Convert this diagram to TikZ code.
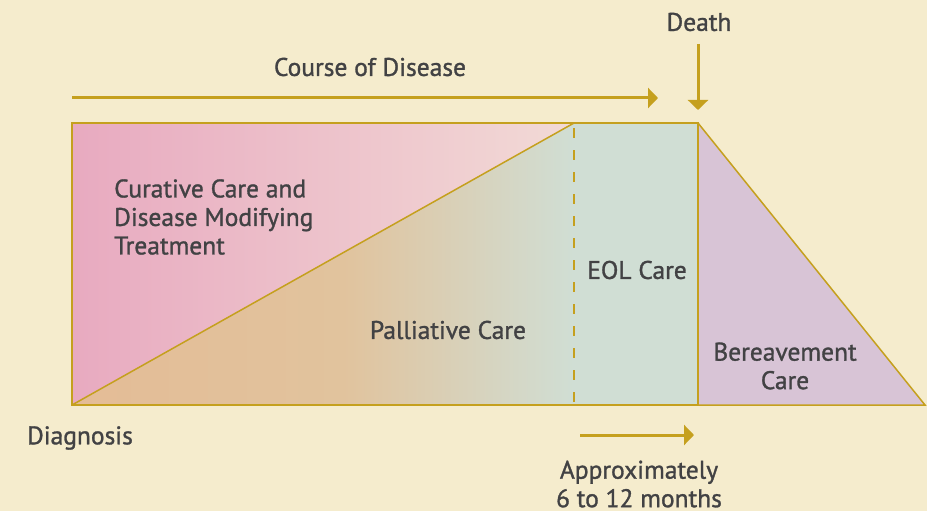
\documentclass[tikz,border=0pt]{standalone}
\usepackage{fontspec}
\setmainfont[FakeBold=1.5,UprightFeatures={FakeBold=1.2}]{PT Sans}
\usetikzlibrary{arrows.meta}
\definecolor{paper}{RGB}{245,236,205}
\definecolor{gold}{RGB}{197,160,30}
\definecolor{ink}{RGB}{66,66,68}
\definecolor{curleft}{RGB}{232,170,192}
\definecolor{curright}{RGB}{242,218,214}
\definecolor{palleft}{RGB}{228,188,150}
\definecolor{palmid}{RGB}{225,195,157}
\definecolor{eol}{RGB}{208,222,212}
\definecolor{bereave}{RGB}{216,196,214}
\pgfdeclarehorizontalshading{palliative}{100bp}{color(0bp)=(palleft);
  color(25bp)=(palleft); color(52bp)=(palmid); color(75bp)=(eol);
  color(100bp)=(eol)}

\begin{document}
\begin{tikzpicture}[x=1pt,y=-1pt,
  every node/.style = {text=ink, inner sep=0pt,
    font=\fontsize{25.5}{28.5}\selectfont},
  timeline/.style = {draw=gold, line width=3pt,
    -{Triangle[length=10pt,width=20pt]}},
  outline/.style = {draw=gold, line width=1.5pt}]
  \fill[paper] (0,0) rectangle (927,511);
  % phases of care
  \shade[left color=curleft, right color=curright] (72,123) -- (574,123) -- (72,405) -- cycle;
  \shade[shading=palliative] (72,405) -- (574,123) -- (574,405) -- cycle;
  \fill[eol] (574,123) rectangle (698,405);
  \fill[bereave] (698,123) -- (925,405) -- (698,405) -- cycle;
  \draw[outline] (72,123) rectangle (698,405);
  \draw[outline] (72,405) -- (574,123);
  \draw[outline, dash pattern=on 10pt off 12pt] (574,128) -- (574,405);
  \draw[outline] (698,123) -- (925,405) -- (698,405);
  % labels
  \node (course) at (370,67) {Course of Disease};
  \node (death) at (699,22) {Death};
  \node (diagnosis) at (80,438) {Diagnosis};
  \node[anchor=west, align=left] (curative) at (114,217)
    {Curative Care and\\Disease Modifying\\Treatment};
  \node (palliative) at (448,330) {Palliative Care};
  \node (eolcare) at (637,270) {EOL Care};
  \node[align=center] (bereavement) at (785,366) {Bereavement\\Care};
  \node[align=center] (approx) at (639,484) {Approximately\\6 to 12 months};
  % arrows
  \coordinate (coursestart) at (72,98);
  \coordinate (courseend) at (658,98);
  \coordinate (deathtop) at (698,44);
  \coordinate (deathend) at (698,110);
  \coordinate (eolstart) at (580,435);
  \coordinate (eolend) at (694,435);
  \draw[timeline] (coursestart) -- (courseend);
  \draw[timeline] (deathtop) -- (deathend);
  \draw[timeline] (eolstart) -- (eolend);
\end{tikzpicture}
\end{document}
